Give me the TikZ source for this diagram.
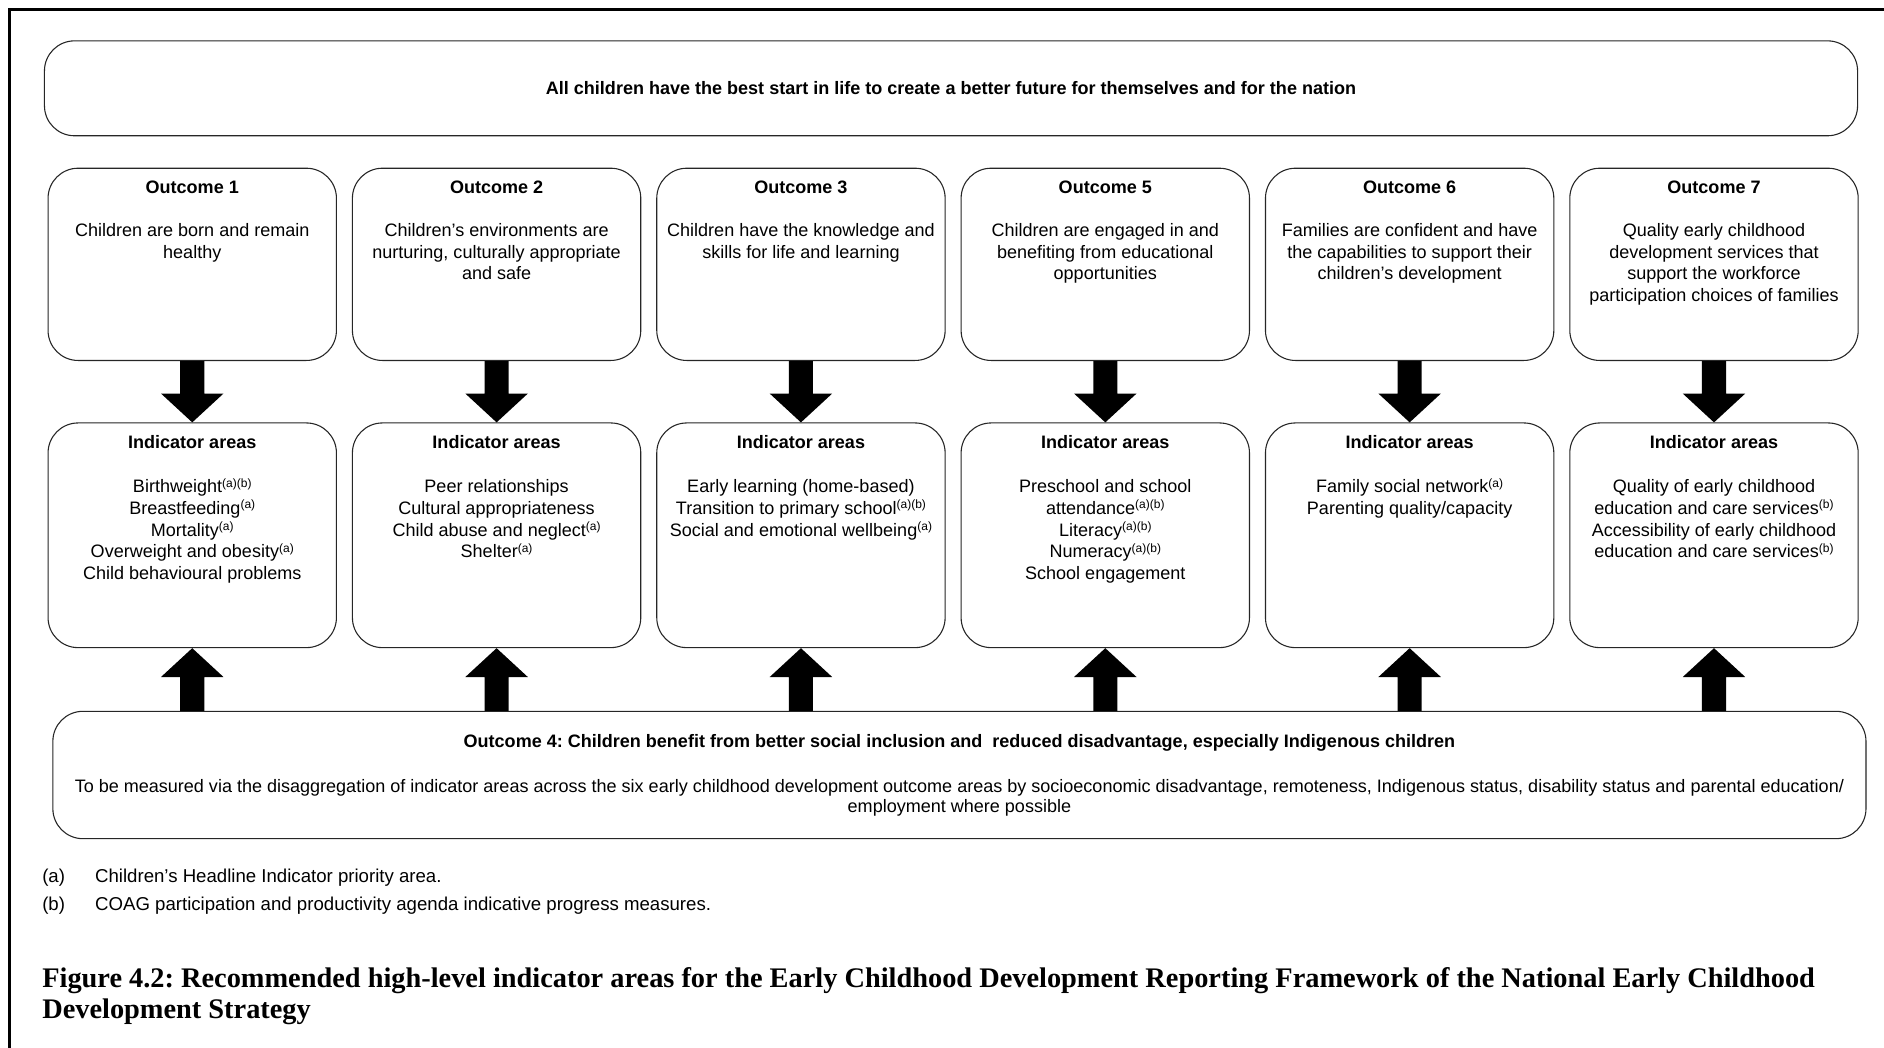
\documentclass[tikz,border=0pt]{standalone}
\usepackage{fontspec}
\setmainfont{Liberation Sans}
\newfontfamily\capfont{Liberation Serif}
\usetikzlibrary{calc}
\frenchspacing
\newcommand\sups[1]{\raisebox{4.8pt}{\fontsize{10}{10}\selectfont #1}}
\begin{document}
\frenchspacing
\begin{tikzpicture}[x=1pt,y=1pt,
  box/.style={draw=black!85, line width=0.9pt, rounded corners=25pt, inner sep=0pt, fill=white},
  obox/.style={box, minimum width=240pt, minimum height=160pt},
  ibox/.style={box, minimum width=240pt, minimum height=187pt},
  hd/.style={font=\fontsize{15}{18}\selectfont\bfseries, inner sep=0pt, anchor=base},
  bd/.style={font=\fontsize{15}{18}\selectfont, inner sep=0pt, align=center, anchor=north},
  fn/.style={font=\fontsize{15.5}{18}\selectfont, inner sep=0pt, anchor=base west},
  captxt/.style={font=\fontsize{23.6}{26}\selectfont\capfont\bfseries, inner sep=0pt, anchor=base west}
]
\useasboundingbox (0,0) rectangle (1568,-872);
\draw[line width=2.5pt] (8,-890) -- (8,-8) -- (1590,-8);

% top banner
\node[box, minimum width=1509pt, minimum height=79pt] (top) at (791.5,-73.5) {};
\node[hd] (toptext) at ($(top.center)+(0,-5)$) {All children have the best start in life to create a better future for themselves and for the nation};

% boxes
\foreach \k/\x in {1/160,2/413.3,3/666.6,4/919.9,5/1173.2,6/1426.5}{
  \node[obox] (o\k) at (\x,-220) {};
  \node[ibox] (i\k) at (\x,-445.5) {};
}
% bottom box
\node[box, minimum width=1509pt, minimum height=106pt] (b4) at (798.5,-645) {};

% outcome texts
\node[hd] (o1h) at ($(o1.north)+(0,-21.5)$) {Outcome 1};
\node[hd] (o2h) at ($(o2.north)+(0,-21.5)$) {Outcome 2};
\node[hd] (o3h) at ($(o3.north)+(0,-21.5)$) {Outcome 3};
\node[hd] (o4h) at ($(o4.north)+(0,-21.5)$) {Outcome 5};
\node[hd] (o5h) at ($(o5.north)+(0,-21.5)$) {Outcome 6};
\node[hd] (o6h) at ($(o6.north)+(0,-21.5)$) {Outcome 7};

\node[bd] (o1t) at ($(o1.north)+(0,-44.4)$) {\strut Children are born and remain\\healthy};
\node[bd] (o2t) at ($(o2.north)+(0,-44.4)$) {\strut Children’s environments are\\nurturing, culturally appropriate\\and safe};
\node[bd] (o3t) at ($(o3.north)+(0,-44.4)$) {\strut Children have the knowledge and\\skills for life and learning};
\node[bd] (o4t) at ($(o4.north)+(0,-44.4)$) {\strut Children are engaged in and\\benefiting from educational\\opportunities};
\node[bd] (o5t) at ($(o5.north)+(0,-44.4)$) {\strut Families are confident and have\\the capabilities to support their\\children’s development};
\node[bd] (o6t) at ($(o6.north)+(0,-44.4)$) {\strut Quality early childhood\\development services that\\support the workforce\\participation choices of families};

% indicator texts
\foreach \k in {1,...,6}{
  \node[hd] (i\k h) at ($(i\k.north)+(0,-21.5)$) {Indicator areas};
}
\node[bd] (i1t) at ($(i1.north)+(0,-45.9)$) {\strut Birthweight\sups{(a)(b)}\\Breastfeeding\sups{(a)}\\Mortality\sups{(a)}\\Overweight and obesity\sups{(a)}\\Child behavioural problems};
\node[bd] (i2t) at ($(i2.north)+(0,-45.9)$) {\strut Peer relationships\\Cultural appropriateness\\Child abuse and neglect\sups{(a)}\\Shelter\sups{(a)}};
\node[bd] (i3t) at ($(i3.north)+(0,-45.9)$) {\strut Early learning (home-based)\\Transition to primary school\sups{(a)(b)}\\Social and emotional wellbeing\sups{(a)}};
\node[bd] (i4t) at ($(i4.north)+(0,-45.9)$) {\strut Preschool and school\\attendance\sups{(a)(b)}\\Literacy\sups{(a)(b)}\\Numeracy\sups{(a)(b)}\\School engagement};
\node[bd] (i5t) at ($(i5.north)+(0,-45.9)$) {\strut Family social network\sups{(a)}\\Parenting quality/capacity};
\node[bd] (i6t) at ($(i6.north)+(0,-45.9)$) {\strut Quality of early childhood\\education and care services\sups{(b)}\\Accessibility of early childhood\\education and care services\sups{(b)}};

% bottom texts
\node[hd] (b4h) at ($(b4.north)+(0,-30.5)$) {Outcome 4: Children benefit from better social inclusion and~ reduced disadvantage, especially Indigenous children};
\node[bd, font=\fontsize{15}{17}\selectfont] (b4t) at ($(b4.north)+(0,-55.6)$) {\strut To be measured via the disaggregation of indicator areas across the six early childhood development outcome areas by socioeconomic disadvantage, remoteness, Indigenous status, disability status and parental education/\\employment where possible};

% arrows
\foreach \k in {1,...,6}{
  \fill ($(o\k.south)+(-10,0)$) -- ($(i\k.north)+(-10,24)$) -- ($(i\k.north)+(-26,24)$) -- (i\k.north)
     -- ($(i\k.north)+(26,24)$) -- ($(i\k.north)+(10,24)$) -- ($(o\k.south)+(10,0)$) -- cycle;
  \fill ($(i\k.south |- b4.north)+(-10,0)$) -- ($(i\k.south)+(-10,-24)$) -- ($(i\k.south)+(-26,-24)$) -- (i\k.south)
     -- ($(i\k.south)+(26,-24)$) -- ($(i\k.south)+(10,-24)$) -- ($(i\k.south |- b4.north)+(10,0)$) -- cycle;
}

% footnotes
\node[fn] (fa) at (35,-734.5) {(a)};
\node[fn] (fat) at (79,-734.5) {Children’s Headline Indicator priority area.};
\node[fn] (fb) at (35,-757.5) {(b)};
\node[fn] (fbt) at (79,-757.5) {COAG participation and productivity agenda indicative progress measures.};

% caption
\node[captxt] (cap1) at (35,-822) {Figure 4.2: Recommended high-level indicator areas for the Early Childhood Development Reporting Framework of the National Early Childhood};
\node[captxt] (cap2) at (35,-848) {Development Strategy};
\end{tikzpicture}
\end{document}
